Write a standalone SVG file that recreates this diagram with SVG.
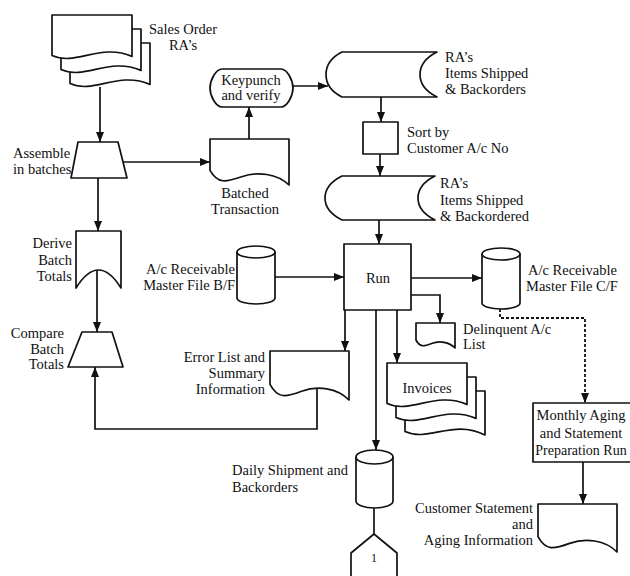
<svg xmlns="http://www.w3.org/2000/svg" width="630" height="576" viewBox="0 0 630 576">
  <defs>
    <marker id="arrow" viewBox="0 0 10 8" refX="10" refY="4" markerWidth="10" markerHeight="8" markerUnits="userSpaceOnUse" orient="auto">
      <path d="M0,0 L10,4 L0,8 Z" fill="#111"/>
    </marker>
  </defs>
  <style>
    .sh { fill: #fff; stroke: #111; stroke-width: 1.7; stroke-linejoin: round; }
    .ln { fill: none; stroke: #111; stroke-width: 1.7; }
    .dash { fill: none; stroke: #111; stroke-width: 1.8; stroke-dasharray: 3 2; }
    text { font-family: "Liberation Serif", "Times New Roman", serif; font-size: 14.5px; fill: #111; }
    .mid { text-anchor: middle; }
    .end { text-anchor: end; }
  </style>
  <rect width="630" height="576" fill="#fff"/>

  <!-- connectors -->
  <g id="connectors">
    <path class="ln" d="M100,87 V142" marker-end="url(#arrow)"/>
    <path class="ln" d="M123,162 H210" marker-end="url(#arrow)"/>
    <path class="ln" d="M98,178 V231" marker-end="url(#arrow)"/>
    <path class="ln" d="M97,270 V332" marker-end="url(#arrow)"/>
    <path class="ln" d="M249,139 V107" marker-end="url(#arrow)"/>
    <path class="ln" d="M293,86 H328" marker-end="url(#arrow)"/>
    <path class="ln" d="M381,97 V122" marker-end="url(#arrow)"/>
    <path class="ln" d="M380,154 V176" marker-end="url(#arrow)"/>
    <path class="ln" d="M379,220 V244" marker-end="url(#arrow)"/>
    <path class="ln" d="M275,277 H344" marker-end="url(#arrow)"/>
    <path class="ln" d="M411,278 H482" marker-end="url(#arrow)"/>
    <path class="ln" d="M411,295 H440 V323" marker-end="url(#arrow)"/>
    <path class="ln" d="M345,310 V351" marker-end="url(#arrow)"/>
    <path class="ln" d="M376,310 V450" marker-end="url(#arrow)"/>
    <path class="ln" d="M397,310 V363" marker-end="url(#arrow)"/>
    <path class="ln" d="M317,386 V429 H95 V367" marker-end="url(#arrow)"/>
    <path class="dash" d="M500,309 V318 H585 V403" marker-end="url(#arrow)"/>
    <path class="ln" d="M583,462 V504" marker-end="url(#arrow)"/>
    <path class="ln" d="M374,508 V534"/>
  </g>

  <!-- Sales Order RA's (multiple documents) -->
  <g id="sales-order">
    <path class="sh" d="M70,43 H150 V84.4 C118,70.6 94,94.5 70,83.5 Z"/>
    <path class="sh" d="M61,29 H141 V70.4 C109,56.6 85,80.5 61,69.5 Z"/>
    <path class="sh" d="M52,15 H132 V56.4 C100,42.6 76,66.5 52,55.5 Z"/>
    <text class="mid" x="183" y="34">Sales Order</text>
    <text class="mid" x="183" y="50">RA’s</text>
  </g>

  <!-- Assemble in batches (manual operation) -->
  <g id="assemble">
    <path class="sh" d="M78,142 H118 L127,178 H71 Z"/>
    <text x="13" y="158">Assemble</text>
    <text x="13" y="174">in batches</text>
  </g>

  <!-- Batched Transaction (document) -->
  <g id="batched">
    <path class="sh" d="M210,139 H289 V185 C277.2,173.5 257.4,171.2 241.6,176.7 S217.9,184.1 210,170.3 Z"/>
    <text class="mid" x="245" y="198">Batched</text>
    <text class="mid" x="245" y="214">Transaction</text>
  </g>

  <!-- Keypunch and verify -->
  <g id="keypunch">
    <path class="sh" d="M222,69 H281 C287,69 293,80 293,88 C293,96 287,107 281,107 H222 C216,107 210,96 210,88 C210,80 216,69 222,69 Z"/>
    <text class="mid" x="251" y="85">Keypunch</text>
    <text class="mid" x="251" y="100">and verify</text>
  </g>

  <!-- RA's Items Shipped & Backorders (stored data) -->
  <g id="ra-items">
    <path class="sh" d="M342,52 H437 C425,58 420,66 420,74.5 C420,83 425,91 437,97 H342 C330,91 326,83 326,74.5 C326,66 330,58 342,52 Z"/>
    <text x="445" y="62">RA’s</text>
    <text x="445" y="78">Items Shipped</text>
    <text x="445" y="94">&amp; Backorders</text>
  </g>

  <!-- Sort by Customer A/c No -->
  <g id="sort">
    <rect class="sh" x="363" y="122" width="35" height="32"/>
    <text x="407" y="137">Sort by</text>
    <text x="407" y="153">Customer A/c No</text>
  </g>

  <!-- RA's Items Shipped & Backordered (stored data) -->
  <g id="ra-sorted">
    <path class="sh" d="M342,176 H435 C423,182 418,190 418,198 C418,206 423,214 435,220 H342 C330,214 325,206 325,198 C325,190 330,182 342,176 Z"/>
    <text x="440" y="188">RA’s</text>
    <text x="440" y="204.5">Items Shipped</text>
    <text x="440" y="221">&amp; Backordered</text>
  </g>

  <!-- Derive Batch Totals -->
  <g id="derive">
    <path class="sh" d="M76,231 H121 V288 Q98.5,252 76,288 Z"/>
    <text class="end" x="72" y="248">Derive</text>
    <text class="end" x="72" y="265">Batch</text>
    <text class="end" x="72" y="281">Totals</text>
  </g>

  <!-- Compare Batch Totals -->
  <g id="compare">
    <path class="sh" d="M82,332 H112 L123,367 H68 Z"/>
    <text class="end" x="64" y="338">Compare</text>
    <text class="end" x="64" y="354">Batch</text>
    <text class="end" x="64" y="369">Totals</text>
  </g>

  <!-- A/c Receivable Master File B/F -->
  <g id="master-bf">
    <path class="sh" d="M237,252 V298 A19,6 0 0 0 275,298 V252"/>
    <ellipse class="sh" cx="256" cy="252" rx="19" ry="6"/>
    <text class="end" x="235" y="274">A/c Receivable</text>
    <text class="end" x="235" y="290">Master File B/F</text>
  </g>

  <!-- Run -->
  <g id="run">
    <rect class="sh" x="344" y="244" width="67" height="66"/>
    <text class="mid" x="378" y="283">Run</text>
  </g>

  <!-- A/c Receivable Master File C/F -->
  <g id="master-cf">
    <path class="sh" d="M482,254 V303 A19,6 0 0 0 520,303 V254"/>
    <ellipse class="sh" cx="501" cy="254" rx="19" ry="6"/>
    <text x="528" y="275">A/c Receivable</text>
    <text x="526" y="291">Master File C/F</text>
  </g>

  <!-- Delinquent A/c List -->
  <g id="delinquent">
    <path class="sh" d="M416,323 H455 V348 C449.2,341.8 439.4,340.5 431.6,343.5 S419.9,347.5 416,340 Z"/>
    <text x="463" y="334">Delinquent A/c</text>
    <text x="463" y="349">List</text>
  </g>

  <!-- Error List and Summary Information -->
  <g id="error-list">
    <path class="sh" d="M270,351 H349 V400 C337.2,387.8 317.4,385.3 301.6,391.2 S277.9,399 270,384.3 Z"/>
    <text class="end" x="265" y="362">Error List and</text>
    <text class="end" x="265" y="378">Summary</text>
    <text class="end" x="265" y="394">Information</text>
  </g>

  <!-- Invoices (multiple documents) -->
  <g id="invoices">
    <path class="sh" d="M405,391 H485 V435 C453,418.6 429,442.5 405,431.5 Z"/>
    <path class="sh" d="M396,377 H476 V418.4 C444,404.6 420,428.5 396,417.5 Z"/>
    <path class="sh" d="M387,363 H467 V404.4 C435,390.6 411,414.5 387,403.5 Z"/>
    <text class="mid" x="427" y="393">Invoices</text>
  </g>

  <!-- Daily Shipment and Backorders -->
  <g id="daily">
    <path class="sh" d="M356,457 V501 A18.5,7 0 0 0 393,501 V457"/>
    <ellipse class="sh" cx="374.5" cy="457" rx="18.5" ry="7"/>
    <text x="232" y="475">Daily Shipment and</text>
    <text x="232" y="492">Backorders</text>
  </g>

  <!-- Off-page connector 1 -->
  <g id="offpage-1">
    <path class="sh" d="M351,580 V553 L374,534 L397,553 V580 Z"/>
    <text class="mid" x="374" y="562" style="font-size:12px">1</text>
  </g>

  <!-- Monthly Aging and Statement Preparation Run -->
  <g id="monthly">
    <rect class="sh" x="533" y="403" width="104" height="59"/>
    <text class="mid" x="581" y="420">Monthly Aging</text>
    <text class="mid" x="581" y="437.5">and Statement</text>
    <text class="mid" x="581" y="455" style="font-size:14px">Preparation Run</text>
  </g>

  <!-- Customer Statement and Aging Information -->
  <g id="customer-statement">
    <path class="sh" d="M538,504 H617 V552 C605.2,540 585.4,537.6 569.6,543.4 S545.9,551 538,536.6 Z"/>
    <text class="end" x="533" y="513">Customer Statement</text>
    <text class="end" x="533" y="529">and</text>
    <text class="end" x="533" y="545">Aging Information</text>
  </g>
</svg>
